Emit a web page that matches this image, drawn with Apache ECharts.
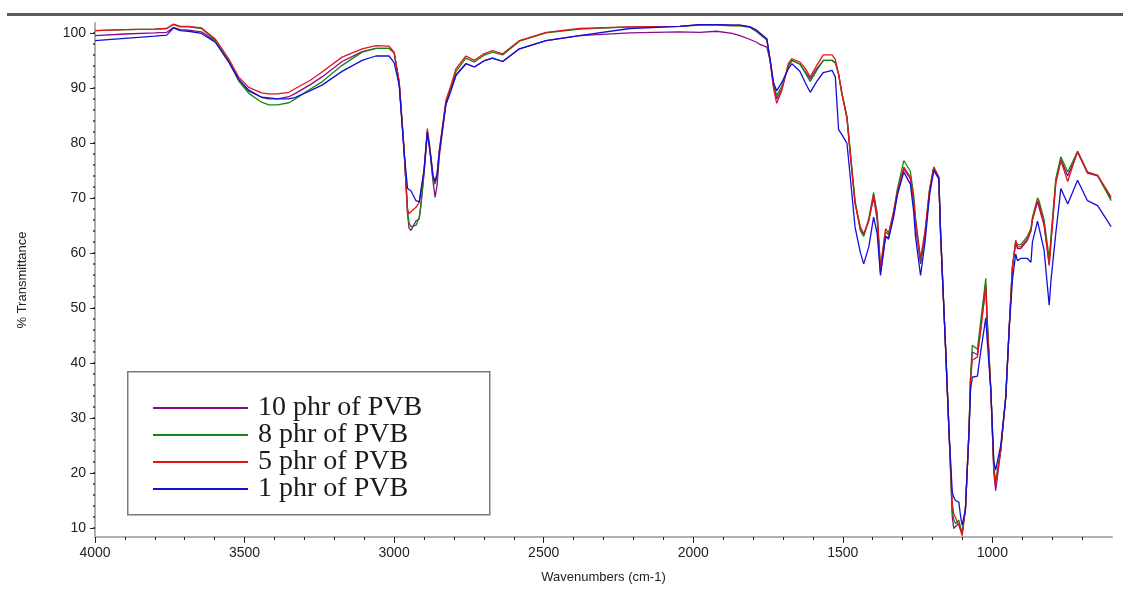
<!DOCTYPE html>
<html>
<head>
<meta charset="utf-8">
<script src="https://cdn.jsdelivr.net/npm/echarts@6/dist/echarts.min.js"></script>
<style>
html,body{margin:0;padding:0;background:#fff;}
#chart{width:1123px;height:591px;}
</style>
</head>
<body>
<div id="chart"></div>
<script>
// Wavenumbers (cm-1)
const wn = [
  4000,3900,3800,3760,3738,3715,3687,3644,3598,3553,
  3520,3486,3443,3419,3390,3352,3330,3280,3241,3174,
  3107,3061,3017,3000,2983,2967,2955,2950,2944,2939,
  2927,2916,2911,2900,2889,2880,2870,2863,2856,2849,
  2827,2810,2793,2760,2732,2700,2671,2637,2581,2492,
  2380,2212,2045,1978,1922,1870,1844,1810,1788,1777,
  1754,1743,1732,1721,1704,1682,1670,1643,1625,1609,
  1587,1565,1536,1525,1514,1503,1486,1475,1459,1441,
  1430,1413,1397,1385,1374,1357,1347,1330,1318,1296,
  1274,1263,1257,1240,1225,1210,1196,1179,1173,1156,
  1145,1134,1129,1123,1112,1106,1101,1090,1078,1073,
  1067,1050,1039,1022,1017,1005,995,989,972,955,
  944,933,922,916,905,883,871,866,849,844,
  827,810,804,788,771,748,715,682,648,603
];
// 10 phr of PVB (purple)
const pvb10 = [
  99.5,99.8,100.0,100.1,101.0,100.6,100.5,100.2,98.5,94.9,
  91.5,89.4,88.3,88.0,88.0,88.4,89.0,90.6,92.0,94.8,
  96.6,97.2,97.2,96.4,91.0,79.0,67.0,64.5,64.1,64.6,
  65.8,66.2,68.3,74.5,81.8,78.5,73.0,70.1,72.5,77.5,
  87.0,89.6,92.4,94.4,93.8,94.9,95.4,94.8,97.1,98.6,
  99.5,100.0,100.2,100.1,100.3,99.9,99.5,98.8,98.3,97.9,
  97.4,95.0,90.6,88.0,89.8,94.0,95.0,94.3,92.9,91.6,
  93.5,95.0,95.0,94.6,92.5,89.0,84.5,78.0,69.0,64.2,
  63.2,65.9,70.0,66.0,56.5,63.0,62.8,67.0,70.5,75.3,
  73.5,69.0,65.0,58.0,63.0,71.0,75.3,73.5,63.5,42.3,
  27.7,12.0,9.9,10.3,10.8,10.0,9.2,13.4,27.7,37.0,
  42.0,41.5,46.0,54.0,47.0,35.0,20.0,16.8,24.1,33.9,
  46.0,57.4,61.8,60.8,60.8,62.3,64.0,66.0,69.3,69.0,
  65.0,58.0,62.0,72.8,77.0,74.0,78.3,74.5,74.0,69.8
];
// 8 phr of PVB (green)
const pvb8 = [
  100.4,100.6,100.7,100.8,101.5,101.1,101.1,100.8,98.6,94.9,
  91.3,89.0,87.4,86.9,86.9,87.3,88.0,89.8,91.1,94.1,
  96.5,97.2,97.2,96.4,91.0,79.0,67.5,65.5,64.8,64.7,
  65.0,66.5,68.5,74.5,82.0,78.5,73.5,72.5,74.0,78.3,
  87.3,90.0,93.0,95.4,94.7,95.9,96.5,96.0,98.5,100.0,
  100.7,101.1,101.2,101.4,101.4,101.3,101.3,101.0,100.2,99.7,
  98.7,95.0,91.0,88.6,90.3,94.0,95.0,94.3,92.7,91.2,
  93.2,95.0,95.0,94.6,92.5,89.0,84.8,78.5,69.5,64.0,
  63.0,66.3,71.0,67.0,57.0,63.8,63.3,67.5,71.5,76.8,
  74.8,70.5,66.5,58.5,63.5,71.5,75.6,73.8,63.5,42.3,
  27.7,13.0,11.5,10.8,11.4,10.0,9.0,13.4,27.7,37.5,
  43.2,42.5,47.5,55.4,48.0,35.0,21.0,18.5,24.1,33.9,
  46.0,57.4,62.0,61.5,61.5,63.0,64.5,66.5,70.0,69.5,
  66.0,59.0,63.0,73.5,77.5,74.7,78.5,74.7,74.1,69.5
];
// 5 phr of PVB (red)
const pvb5 = [
  100.4,100.6,100.7,100.8,101.6,101.2,101.2,100.9,98.9,95.3,
  92.0,90.1,89.1,88.9,88.9,89.2,89.9,91.4,92.9,95.6,
  97.1,97.7,97.6,96.5,91.0,79.0,68.0,67.1,67.5,67.8,
  68.3,69.2,69.5,75.0,82.6,79.0,74.0,72.9,74.5,78.6,
  87.7,90.5,93.5,95.8,95.0,96.2,96.8,96.2,98.6,100.1,
  100.8,101.1,101.2,101.5,101.5,101.4,101.4,101.1,100.4,99.9,
  98.9,95.0,90.1,87.2,89.5,94.4,95.3,94.7,93.5,92.0,
  94.1,96.0,96.0,95.2,92.5,88.9,84.5,78.0,69.0,64.7,
  63.5,65.9,70.5,67.1,57.4,64.4,63.6,67.5,71.0,75.6,
  73.8,69.5,65.9,59.0,64.0,71.5,75.6,73.8,63.5,42.3,
  27.7,14.4,12.6,12.8,10.5,9.5,8.6,13.4,27.7,36.8,
  40.5,41.1,46.0,54.1,47.0,35.0,20.5,17.9,24.1,33.9,
  46.0,57.4,62.3,61.1,61.1,62.6,64.1,66.0,69.5,69.0,
  65.3,57.7,62.0,72.6,76.8,73.0,78.5,74.7,74.1,70.2
];
// 1 phr of PVB (blue)
const pvb1 = [
  98.6,99.0,99.4,99.6,100.9,100.4,100.3,99.9,98.3,94.7,
  91.6,89.6,88.3,88.2,88.0,88.0,88.3,89.5,90.5,93.0,
  95.0,95.8,95.8,94.6,90.5,78.5,71.7,71.5,71.3,71.1,
  69.5,69.3,69.4,75.0,82.0,78.5,74.0,73.0,74.5,78.3,
  87.0,89.5,92.3,94.4,93.8,94.9,95.4,94.8,97.1,98.6,
  99.5,100.8,101.2,101.5,101.5,101.4,101.4,101.1,100.5,100.0,
  98.9,95.2,91.0,89.5,91.0,93.5,94.4,93.0,90.9,89.2,
  91.2,92.8,93.2,92.0,82.4,81.5,79.9,73.8,64.7,60.0,
  58.0,61.1,66.5,63.5,55.9,63.0,62.5,66.5,70.5,74.7,
  72.5,67.5,63.0,55.9,62.0,70.5,75.0,73.5,63.5,42.3,
  27.7,16.5,15.6,15.0,14.7,12.0,10.5,13.4,27.7,35.0,
  37.4,37.6,42.0,48.2,44.0,35.0,22.0,20.5,25.0,33.9,
  46.0,55.0,59.8,58.6,59.0,59.0,58.3,62.0,65.8,65.5,
  60.5,50.5,55.0,63.5,71.7,68.9,73.2,69.5,68.6,64.8
];
const seriesNames = ['10 phr of PVB', '8 phr of PVB', '5 phr of PVB', '1 phr of PVB'];
const seriesColors = ['#8b0a8b', '#128a12', '#e3141b', '#1010d8'];
const xLabelTicks = [4000, 3500, 3000, 2500, 2000, 1500, 1000];
const xMinorTicks = [];
for (let v = 4000; v >= 700; v -= 100) xMinorTicks.push(v);
const yLabelTicks = [10, 20, 30, 40, 50, 60, 70, 80, 90, 100];
const yMinorTicks = [];
for (let v = 10; v <= 100; v += 2) yMinorTicks.push(v);

const pair = arr => wn.map((w, i) => [w, arr[i]]);
const dataSets = [pvb10, pvb8, pvb5, pvb1];

const chart = echarts.init(document.getElementById('chart'));
const axisGray = '#b0b0b0';
const sans = '"Liberation Sans", Arial, sans-serif';

const option = {
  animation: false,
  backgroundColor: '#ffffff',
  grid: { left: 95, right: 11, top: 23, bottom: 54, containLabel: false },
  xAxis: [
    {
      type: 'value', min: 600, max: 4000, inverse: true, position: 'bottom',
      name: 'Wavenumbers (cm-1)', nameLocation: 'middle', nameGap: 34,
      nameTextStyle: { fontFamily: sans, fontSize: 13, color: '#222' },
      axisLine: { show: true, onZero: false, lineStyle: { color: axisGray, width: 2 } },
      axisTick: { show: true, customValues: xLabelTicks, length: 6, lineStyle: { color: '#222', width: 1 } },
      axisLabel: { customValues: xLabelTicks, formatter: v => String(v), fontFamily: sans, fontSize: 14, color: '#222', margin: 9 },
      splitLine: { show: false }
    },
    {
      type: 'value', min: 600, max: 4000, inverse: true, position: 'bottom',
      axisLine: { show: false, onZero: false },
      axisTick: { show: true, customValues: xMinorTicks, length: 3, lineStyle: { color: '#222', width: 1 } },
      axisLabel: { show: false },
      splitLine: { show: false }
    }
  ],
  yAxis: [
    {
      type: 'value', min: 8.36, max: 101.8, position: 'left',
      name: '% Transmittance', nameLocation: 'middle', nameGap: 66, nameRotate: 90,
      nameTextStyle: { fontFamily: sans, fontSize: 13, color: '#222' },
      axisLine: { show: true, onZero: false, lineStyle: { color: axisGray, width: 2 } },
      axisTick: { show: true, customValues: yLabelTicks, length: 5, lineStyle: { color: '#222', width: 1 } },
      axisLabel: { customValues: yLabelTicks, formatter: v => String(v), fontFamily: sans, fontSize: 14, color: '#222', margin: 9 },
      splitLine: { show: false }
    },
    {
      type: 'value', min: 8.36, max: 101.8, position: 'left',
      axisLine: { show: false, onZero: false },
      axisTick: { show: true, customValues: yMinorTicks, length: 2, lineStyle: { color: '#333', width: 1.5 } },
      axisLabel: { show: false },
      splitLine: { show: false }
    }
  ],
  legend: {
    show: true,
    orient: 'vertical',
    left: 153, top: 394,
    padding: 0,
    itemGap: -1,
    itemWidth: 95, itemHeight: 2,
    icon: 'rect',
    data: seriesNames,
    textStyle: { fontFamily: '"Liberation Serif", "Times New Roman", serif', fontSize: 28, color: '#1a1a1a', padding: [0, 0, 0, 5] }
  },
  graphic: [
    { type: 'rect', left: 7, top: 13, shape: { width: 1116, height: 3 }, style: { fill: '#5c5c5c' }, z: 100 },
    { type: 'rect', left: 127, top: 371, shape: { width: 362, height: 143 }, style: { fill: '#ffffff', stroke: '#7a7a7a', lineWidth: 1.5 }, z: 1 }
  ],
  series: seriesNames.map((name, i) => ({
    name: name,
    type: 'line',
    xAxisIndex: 0, yAxisIndex: 0,
    data: pair(dataSets[i]),
    showSymbol: false, symbol: 'none',
    smooth: false,
    color: seriesColors[i],
    lineStyle: { color: seriesColors[i], width: 1.3 },
    z: 3
  }))
};
chart.setOption(option);
</script>
</body>
</html>
